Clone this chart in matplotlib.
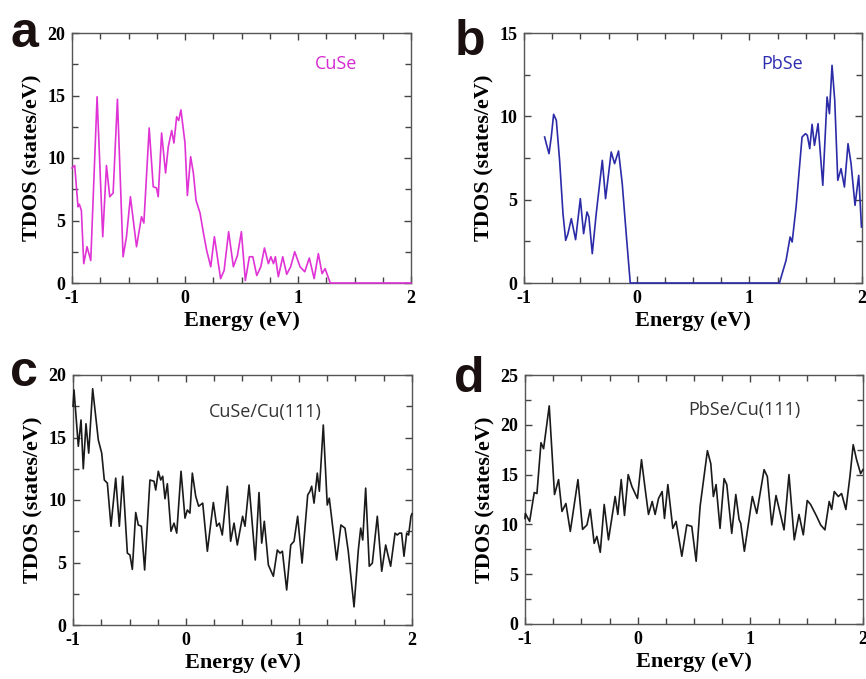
import matplotlib
matplotlib.use("Agg")
import matplotlib.pyplot as plt
from matplotlib.ticker import MultipleLocator

plt.rcParams["axes.unicode_minus"] = False

# --- données (énergie en eV, TDOS en états/eV) ---
cuse_e = [-1.0, -0.976, -0.947, -0.935, -0.917, -0.896, -0.867, -0.834, -0.778, -0.728,
          -0.695, -0.666, -0.636, -0.598, -0.548, -0.518, -0.483, -0.429, -0.385, -0.364,
          -0.317, -0.281, -0.252, -0.237, -0.207, -0.172, -0.148, -0.118, -0.098, -0.074,
          -0.056, -0.036, 0.0, 0.021, 0.050, 0.074, 0.098, 0.133, 0.163, 0.192,
          0.228, 0.260, 0.315, 0.346, 0.386, 0.428, 0.464, 0.499, 0.534, 0.570,
          0.600, 0.635, 0.671, 0.703, 0.738, 0.760, 0.783, 0.800, 0.826, 0.865,
          0.900, 0.935, 0.971, 1.018, 1.060, 1.100, 1.143, 1.180, 1.213, 1.240,
          1.285, 2.0]
cuse_dos = [9.2, 9.4, 6.1, 6.3, 5.8, 1.55, 2.9, 1.8, 14.9, 3.7,
            9.4, 6.9, 7.2, 14.7, 2.1, 3.7, 6.9, 2.9, 5.3, 4.8,
            12.4, 7.7, 7.6, 6.9, 12.0, 8.8, 10.9, 12.2, 11.2, 13.3,
            13.0, 13.85, 11.2, 7.0, 10.1, 8.8, 6.6, 5.6, 4.0, 2.6,
            1.3, 3.7, 0.35, 1.0, 4.1, 1.3, 2.2, 4.1, 0.2, 2.1,
            2.1, 0.6, 1.3, 2.8, 1.55, 2.1, 1.55, 2.1, 0.5, 2.1,
            0.7, 1.3, 2.5, 1.3, 0.9, 2.0, 0.35, 2.35, 0.75, 1.15,
            0.0, 0.0]

pbse_e = [-0.817, -0.802, -0.778, -0.758, -0.737, -0.713, -0.684, -0.654, -0.630, -0.610,
          -0.580, -0.542, -0.500, -0.471, -0.441, -0.424, -0.394, -0.359, -0.305, -0.276,
          -0.226, -0.196, -0.161, -0.128, -0.093, -0.057, 1.267, 1.326, 1.362, 1.380,
          1.415, 1.468, 1.498, 1.515, 1.536, 1.557, 1.578, 1.610, 1.652, 1.690,
          1.711, 1.734, 1.758, 1.785, 1.814, 1.844, 1.876, 1.903, 1.938, 1.971,
          1.995]
pbse_dos = [8.76, 8.36, 7.76, 8.76, 10.12, 9.76, 7.36, 4.16, 2.56, 2.96,
            3.86, 2.6, 5.06, 2.96, 4.26, 3.96, 1.76, 4.16, 7.36, 5.06,
            7.86, 7.16, 7.92, 5.96, 2.96, 0.0, 0.0, 1.36, 2.76, 2.46,
            4.56, 8.76, 8.96, 8.86, 8.06, 9.52, 8.26, 9.56, 5.86, 11.16,
            10.16, 13.06, 10.96, 6.16, 6.86, 5.76, 8.36, 7.16, 4.66, 6.46,
            3.36]

cusecu_e = [-1.0, -0.991, -0.953, -0.929, -0.909, -0.885, -0.861, -0.826, -0.776, -0.746,
            -0.723, -0.696, -0.664, -0.622, -0.590, -0.560, -0.519, -0.496, -0.475, -0.445,
            -0.422, -0.395, -0.366, -0.319, -0.283, -0.268, -0.245, -0.224, -0.206, -0.186,
            -0.165, -0.133, -0.106, -0.082, -0.044, -0.009, 0.012, 0.035, 0.056, 0.086,
            0.112, 0.148, 0.189, 0.242, 0.272, 0.295, 0.321, 0.366, 0.395, 0.425,
            0.454, 0.501, 0.522, 0.558, 0.613, 0.646, 0.670, 0.693, 0.729, 0.773,
            0.808, 0.832, 0.853, 0.891, 0.927, 0.956, 0.988, 1.027, 1.077, 1.097,
            1.112, 1.133, 1.162, 1.180, 1.215, 1.250, 1.268, 1.333, 1.371, 1.407,
            1.436, 1.487, 1.525, 1.546, 1.564, 1.590, 1.622, 1.649, 1.693, 1.732,
            1.767, 1.790, 1.811, 1.850, 1.870, 1.888, 1.908, 1.929, 1.953, 1.970,
            1.991, 2.0]
cusecu_dos = [17.5, 18.8, 14.3, 16.4, 12.5, 16.1, 13.75, 18.9, 14.8, 13.75,
              11.6, 11.35, 7.9, 11.75, 7.9, 11.9, 5.75, 5.6, 4.45, 9.0,
              8.0, 7.9, 4.4, 11.6, 11.5, 10.8, 12.3, 11.6, 11.9, 10.1,
              11.3, 7.5, 8.15, 7.35, 12.3, 8.55, 9.2, 8.95, 12.15, 10.3,
              9.5, 9.75, 5.9, 9.8, 7.9, 8.15, 7.2, 11.1, 6.7, 8.15,
              6.4, 8.7, 7.9, 11.2, 5.2, 10.6, 6.55, 8.3, 4.8, 3.9,
              6.0, 5.75, 5.9, 2.8, 6.4, 6.7, 8.7, 4.95, 10.4, 10.7,
              11.1, 9.75, 12.15, 10.7, 16.0, 9.6, 10.15, 5.2, 8.0, 7.75,
              5.9, 1.45, 6.0, 7.75, 6.8, 10.95, 4.7, 4.95, 8.7, 4.3,
              6.4, 5.5, 4.7, 7.35, 7.2, 7.35, 7.35, 5.5, 7.35, 7.2,
              8.7, 8.9]

pbsecu_e = [-1.0, -0.997, -0.959, -0.918, -0.894, -0.858, -0.835, -0.785, -0.738, -0.702,
            -0.672, -0.637, -0.598, -0.530, -0.489, -0.450, -0.421, -0.386, -0.362, -0.332,
            -0.297, -0.259, -0.200, -0.176, -0.146, -0.117, -0.084, -0.051, -0.002, 0.034,
            0.066, 0.096, 0.129, 0.155, 0.185, 0.217, 0.238, 0.268, 0.312, 0.341,
            0.392, 0.436, 0.480, 0.519, 0.554, 0.619, 0.649, 0.672, 0.696, 0.731,
            0.767, 0.791, 0.835, 0.871, 0.900, 0.915, 0.947, 0.977, 1.018, 1.057,
            1.122, 1.151, 1.190, 1.228, 1.257, 1.299, 1.343, 1.390, 1.432, 1.470,
            1.505, 1.535, 1.589, 1.624, 1.662, 1.700, 1.722, 1.745, 1.781, 1.810,
            1.848, 1.884, 1.913, 1.943, 1.979, 2.0]
pbsecu_dos = [10.6, 11.1, 10.3, 13.2, 13.1, 18.2, 17.6, 21.9, 13.0, 14.5,
              11.3, 12.1, 9.3, 14.5, 9.5, 9.95, 11.5, 8.1, 8.8, 7.2,
              12.0, 8.45, 12.8, 11.0, 14.5, 10.9, 15.0, 13.8, 12.6, 16.5,
              13.6, 11.0, 12.3, 11.0, 12.6, 13.3, 10.6, 14.0, 9.6, 10.3,
              6.8, 9.95, 9.8, 6.3, 11.8, 17.4, 16.1, 12.8, 14.0, 9.6,
              14.6, 14.0, 9.1, 13.0, 10.5, 10.1, 7.3, 9.6, 12.8, 11.1,
              15.5, 14.8, 9.95, 12.9, 11.5, 9.45, 15.0, 8.45, 11.0, 8.95,
              12.4, 12.0, 10.8, 9.95, 9.45, 12.3, 11.5, 13.3, 12.8, 13.1,
              11.5, 14.8, 18.0, 16.5, 15.1, 15.5]

W, H = 866, 679
fig = plt.figure(figsize=(W / 100, H / 100), dpi=100)

serif = "Liberation Serif"


def panneau(rect, e, dos, couleur, ymax, nom, coul_nom, pos_nom, lettre, pos_lettre):
    l, t, r, b = rect
    ax = fig.add_axes([l / W, 1 - b / H, (r - l) / W, (b - t) / H])
    ax.plot(e, dos, color=couleur, lw=1.2, clip_on=False, zorder=3)
    ax.set_xlim(-1, 2)
    ax.set_ylim(0, ymax)
    ax.xaxis.set_major_locator(MultipleLocator(1))
    ax.xaxis.set_minor_locator(MultipleLocator(0.25))
    ax.yaxis.set_major_locator(MultipleLocator(5))
    ax.yaxis.set_minor_locator(MultipleLocator(2.5))
    ax.tick_params(which="both", direction="in", top=True, right=True,
                   color="#444444", width=1.0)
    ax.tick_params(which="major", length=5, labelsize=13, pad=5)
    ax.tick_params(which="minor", length=4)
    for lab in ax.get_xticklabels() + ax.get_yticklabels():
        lab.set_fontfamily(serif)
        lab.set_fontweight("bold")
    for sp in ax.spines.values():
        sp.set_color("#555555")
        sp.set_linewidth(1.0)
    ax.set_xlabel("Energy (eV)", fontfamily=serif, fontweight="bold",
                  fontsize=16, labelpad=3)
    ax.set_ylabel("TDOS (states/eV)", fontfamily=serif, fontweight="bold",
                  fontsize=16, labelpad=3)
    fig.text(pos_nom[0] / W, 1 - pos_nom[1] / H, nom, color=coul_nom,
             fontfamily="Open Sans", fontsize=13, ha="center", va="center")
    fig.text(pos_lettre[0] / W, 1 - pos_lettre[1] / H, lettre,
             fontfamily="Liberation Sans", fontweight="bold", fontsize=36,
             ha="left", va="baseline", color="#1a1010")
    return ax


panneau((72, 33, 411, 283), cuse_e, cuse_dos, "#e033d6", 20,
        "CuSe", "#d42ad0", (336, 64), "a", (10, 47))
panneau((524, 33, 862, 283), pbse_e, pbse_dos, "#2b2ba8", 15,
        "PbSe", "#2b2bb0", (782, 64), "b", (455, 55))
panneau((73, 375, 412, 625), cusecu_e, cusecu_dos, "#1a1a1a", 20,
        "CuSe/Cu(111)", "#333333", (265, 412), "c", (10, 386))
panneau((525, 375, 863, 624), pbsecu_e, pbsecu_dos, "#1a1a1a", 25,
        "PbSe/Cu(111)", "#333333", (744, 410), "d", (454, 392))

fig.savefig("out.png", dpi=100)
